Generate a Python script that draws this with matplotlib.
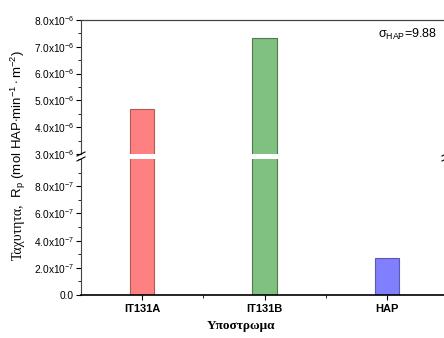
import numpy as np
import matplotlib
matplotlib.use('Agg')
import matplotlib.pyplot as plt
from matplotlib.ticker import FixedLocator, MultipleLocator

categories = ['IT131A', 'IT131B', 'HAP']
rates = [4.68e-6, 7.33e-6, 2.72e-7]
bar_colors = ['#ff8080', '#80c080', '#8080ff']
edge_colors = ['#b05a5a', '#4f7a4f', '#5a5ab0']
upper_ticks = [3e-6, 4e-6, 5e-6, 6e-6, 7e-6, 8e-6]
upper_labels = ['3.0x10$^{-6}$', '4.0x10$^{-6}$', '5.0x10$^{-6}$',
                '6.0x10$^{-6}$', '7.0x10$^{-6}$', '8.0x10$^{-6}$']
lower_ticks = [0, 2e-7, 4e-7, 6e-7, 8e-7]
lower_labels = ['0.0', '2.0x10$^{-7}$', '4.0x10$^{-7}$', '6.0x10$^{-7}$', '8.0x10$^{-7}$']

plt.rcParams['font.family'] = ['Liberation Sans', 'DejaVu Sans']
plt.rcParams['mathtext.fontset'] = 'custom'
plt.rcParams['mathtext.rm'] = 'Liberation Sans'
plt.rcParams['mathtext.it'] = 'Liberation Sans:italic'

W, H = 444, 338
fig = plt.figure(figsize=(W / 100, H / 100), dpi=100)


def frac(x0, y_top, x1, y_bot):
    return [x0 / W, 1 - y_bot / H, (x1 - x0) / W, (y_bot - y_top) / H]


ax_up = fig.add_axes(frac(81, 20, 448, 154))
ax_lo = fig.add_axes(frac(81, 159, 448, 295))

x = np.arange(len(categories))
for ax in (ax_up, ax_lo):
    ax.bar(x, rates, width=0.2, color=bar_colors, edgecolor=edge_colors, linewidth=0.8)
    ax.set_xlim(-0.5, 2.5)
    ax.tick_params(axis='y', which='major', direction='out', length=3.5, width=0.8,
                   labelsize=7.3, pad=1.5)
    ax.tick_params(axis='y', which='minor', direction='out', length=2, width=0.6)
    ax.spines['left'].set_color('#444444')
    ax.spines['left'].set_linewidth(0.8)

ax_up.set_ylim(3e-6, 8e-6)
ax_up.yaxis.set_major_locator(FixedLocator(upper_ticks))
ax_up.set_yticklabels(upper_labels)
ax_up.yaxis.set_minor_locator(MultipleLocator(0.5e-6))
ax_up.spines['bottom'].set_visible(False)
ax_up.spines['right'].set_visible(False)
ax_up.spines['top'].set_color('#444444')
ax_up.spines['top'].set_linewidth(0.9)
ax_up.set_xticks([])

fig.text(378 / W, 1 - 34 / H, r'σ$_{\rm HAP}$=9.88', fontsize=9,
         ha='left', va='center')

ax_lo.set_ylim(0, 1e-6)
ax_lo.yaxis.set_major_locator(FixedLocator(lower_ticks))
ax_lo.set_yticklabels(lower_labels)
ax_lo.yaxis.set_minor_locator(MultipleLocator(1e-7))
ax_lo.spines['top'].set_visible(False)
ax_lo.spines['right'].set_visible(False)
ax_lo.spines['bottom'].set_linewidth(1.2)
ax_lo.set_xticks(x)
ax_lo.set_xticklabels(categories, fontsize=8, fontweight='bold')
ax_lo.set_xticks([0.5, 1.5], minor=True)
ax_lo.tick_params(axis='x', which='major', direction='out', length=3.5, width=0.8, pad=3)
ax_lo.tick_params(axis='x', which='minor', direction='out', length=2, width=0.6)

# break marks on the y axis
for xb in (81, 446):
    for yb in (154, 159):
        fig.add_artist(plt.Line2D([(xb - 4) / W, (xb + 4) / W],
                                  [1 - (yb + 2) / H, 1 - (yb - 2) / H],
                                  color='black', linewidth=0.8))

fig.text(241 / W, 1 - 326 / H, 'Υποστρωμα', family='Liberation Serif',
         fontsize=9.5, fontweight='bold', ha='center', va='center')

fig.text(18 / W, 1 - 203 / H, 'Ταχυτητα,', family='Liberation Serif', fontsize=10,
         rotation=90, ha='center', va='top')
fig.text(18 / W, 1 - 201 / H, r' R$_{\rm p}$ (mol HAP$\cdot$min$^{-1}\cdot$m$^{-2}$)',
         fontsize=9.5, rotation=90, ha='center', va='bottom')

fig.savefig('out.png', dpi=100)
